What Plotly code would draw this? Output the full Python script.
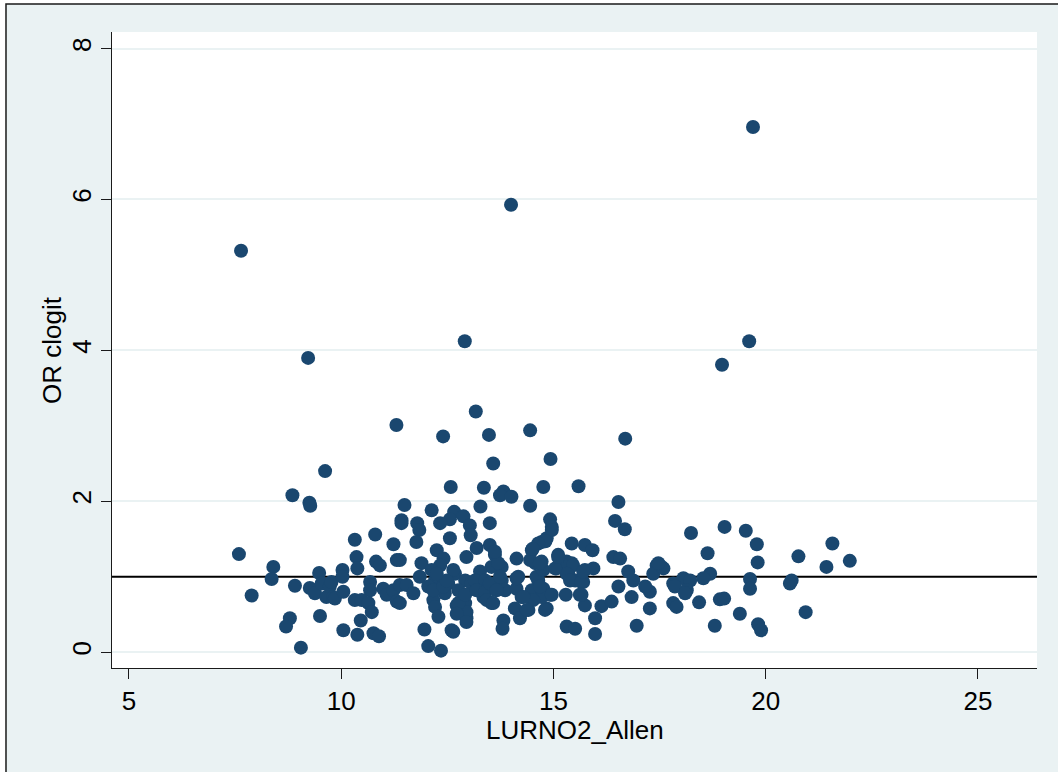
import plotly.graph_objects as go

# Scatter of conditional-logit odds ratios against LURNO2_Allen exposure
lurno2_allen = [
    7.64, 9.22, 9.62, 8.85, 9.25, 9.27, 11.30, 12.40, 12.91, 13.17, 13.48, 13.58, 14.00, 14.45, 14.93, 16.69,
    19.70, 19.61, 18.97, 12.58, 13.36, 13.82, 13.74, 14.01, 14.76, 15.59, 16.53, 11.49, 12.13, 12.66, 13.28,
    14.45, 12.88, 12.56, 12.33, 13.50, 11.42, 11.42, 11.79, 11.84, 14.92, 14.96, 13.03, 13.05, 16.45, 16.68,
    18.24, 19.03, 19.53, 19.79, 19.81, 18.63, 20.77, 21.57, 21.98, 21.43, 20.61, 20.57, 20.94, 19.63, 19.63,
    19.39, 19.82, 19.89, 18.80, 18.92, 19.02, 18.43, 18.69, 18.53, 17.82, 17.90, 17.27, 17.82, 18.06, 18.22,
    18.14, 17.86, 18.10, 17.43, 17.55, 17.35, 17.27, 17.59, 17.47, 17.16, 16.84, 16.76, 16.88, 16.53, 16.96,
    16.41, 16.57, 16.13, 16.37,
    7.59, 8.40, 8.36, 7.89, 8.91, 8.79, 8.70, 9.05, 9.48, 9.26, 9.38, 9.54, 9.65, 9.73, 9.77, 9.81, 9.85,
    10.05, 9.50, 10.03, 10.03, 10.32, 10.36, 10.38, 10.80, 10.82, 10.91, 11.23, 11.31, 10.05, 10.38, 10.46,
    10.76, 10.89, 10.68, 10.68, 10.32, 10.48, 10.64, 10.72, 10.99, 11.07, 11.23, 11.31, 11.38, 11.54, 11.70,
    11.38, 11.38, 11.77, 11.89, 11.85,
    12.25, 12.41, 12.33, 12.13, 12.21, 12.05, 12.29, 12.52, 12.68, 12.44, 12.17, 12.21, 12.29, 12.17, 12.41,
    12.64, 12.48, 12.56, 12.25, 11.96, 12.05, 12.35, 12.64, 12.60,
    12.95, 13.19, 13.50, 13.62, 13.54, 13.78, 13.27, 12.92, 13.07, 12.76, 12.72, 12.92, 12.95, 13.15, 13.39,
    13.35, 13.54, 13.62, 13.86, 13.78, 12.95, 12.76, 12.72, 12.92, 13.19, 13.39, 13.43, 13.58, 13.50, 13.70,
    13.74, 13.66, 13.62, 12.95, 13.82, 13.80,
    14.13, 14.17, 14.13, 14.25, 14.09, 14.21, 14.41, 14.49, 14.57, 14.72, 14.49, 14.72, 14.84, 14.96, 14.64,
    14.76, 14.92, 14.84, 14.72, 14.52, 14.37, 14.60, 14.68, 14.76, 14.45, 14.68, 14.81, 14.64, 14.51, 14.80,
    14.96, 14.13, 14.29,
    15.11, 15.31, 15.43, 15.07, 15.35, 15.51, 15.70, 15.74, 15.74, 15.43, 15.29, 15.62, 15.74, 15.31, 15.51,
    15.98, 15.98, 15.23, 15.46, 15.31, 15.04, 15.39, 15.66, 15.94, 15.70, 15.66, 15.92, 15.11,
]

or_clogit = [
    5.32, 3.90, 2.40, 2.08, 1.98, 1.94, 3.01, 2.86, 4.12, 3.19, 2.88, 2.50, 5.93, 2.94, 2.56, 2.83,
    6.96, 4.12, 3.81, 2.19, 2.18, 2.13, 2.08, 2.06, 2.19, 2.20, 1.99, 1.95, 1.88, 1.86, 1.93,
    1.94, 1.80, 1.76, 1.71, 1.71, 1.75, 1.71, 1.71, 1.62, 1.76, 1.66, 1.68, 1.55, 1.74, 1.63,
    1.58, 1.66, 1.61, 1.43, 1.19, 1.31, 1.27, 1.44, 1.21, 1.13, 0.95, 0.91, 0.53, 0.97, 0.84,
    0.51, 0.37, 0.29, 0.35, 0.70, 0.71, 0.66, 1.04, 0.98, 0.65, 0.60, 0.58, 0.91, 0.98, 0.95,
    0.82, 0.87, 0.78, 1.15, 1.13, 1.04, 0.80, 1.11, 1.18, 0.87, 0.73, 1.07, 0.95, 0.87, 0.35,
    1.26, 1.24, 0.61, 0.67,
    1.30, 1.13, 0.97, 0.75, 0.88, 0.45, 0.34, 0.06, 1.05, 0.85, 0.78, 0.91, 0.73, 0.87, 0.93, 0.73, 0.71,
    0.80, 0.48, 1.09, 1.00, 1.49, 1.26, 1.11, 1.56, 1.20, 1.15, 1.43, 1.22, 0.29, 0.23, 0.42,
    0.25, 0.21, 0.93, 0.82, 0.69, 0.69, 0.65, 0.53, 0.84, 0.76, 0.82, 0.67, 0.89, 0.89, 0.78,
    0.65, 1.22, 1.46, 1.18, 1.00,
    1.35, 1.24, 1.15, 1.09, 0.95, 0.87, 0.84, 0.91, 1.04, 0.78, 0.69, 0.60, 0.47, 0.82, 0.87,
    1.09, 0.95, 1.51, 1.04, 0.30, 0.08, 0.02, 0.27, 0.29,
    1.26, 1.38, 1.42, 1.29, 1.13, 1.13, 1.07, 0.95, 0.91, 0.82, 0.62, 0.65, 0.45, 0.95, 0.95,
    0.73, 0.65, 0.84, 0.82, 0.95, 0.53, 0.65, 0.51, 0.76, 0.82, 0.80, 0.69, 0.65, 0.91, 1.18,
    1.00, 0.82, 1.33, 0.40, 0.42, 0.31,
    1.24, 1.00, 0.84, 0.73, 0.58, 0.45, 0.56, 0.82, 1.18, 1.20, 1.35, 1.46, 1.51, 1.62, 0.95,
    0.84, 0.76, 0.58, 0.73, 0.69, 0.56, 1.00, 0.87, 1.09, 1.22, 1.18, 1.47, 1.44, 1.37, 0.56,
    0.76, 0.98, 0.73,
    1.29, 1.20, 1.18, 1.11, 1.04, 0.95, 0.93, 1.09, 1.42, 1.44, 0.76, 0.76, 0.62, 0.34, 0.31,
    0.45, 0.24, 1.15, 1.15, 1.04, 1.11, 0.95, 0.93, 1.11, 1.07, 0.76, 1.35, 1.26,
]

x_ticks = [5, 10, 15, 20, 25]
y_ticks = [0, 2, 4, 6, 8]
ref_line = 1  # OR = 1 reference
x_title = "LURNO2_Allen"
y_title = "OR clogit"

navy = "#1A476F"
bg = "#EAF2F3"
ink = "#1a1a1a"

fig = go.Figure()
fig.add_trace(go.Scatter(
    x=lurno2_allen, y=or_clogit, mode="markers",
    marker=dict(color=navy, size=14, line=dict(width=0)),
    showlegend=False, hoverinfo="x+y",
))

# outer frame + graph region background, plot region, reference line
fig.add_shape(type="rect", xref="paper", yref="paper",
              x0=-0.1146, x1=1.04, y0=-0.19, y1=1.0440,
              fillcolor=bg, line=dict(color=ink, width=1.5), layer="below")
fig.add_shape(type="rect", xref="paper", yref="paper",
              x0=0, x1=1, y0=0, y1=1,
              fillcolor="white", line=dict(width=0), layer="below")
fig.add_shape(type="line", xref="paper", yref="y",
              x0=0, x1=1, y0=ref_line, y1=ref_line,
              line=dict(color="black", width=2), layer="below")

font = dict(family="Liberation Sans, Arial, Helvetica, sans-serif", size=26, color="black")

# axis titles placed as free text around the plot region
fig.add_annotation(text=y_title, xref="paper", yref="paper",
                   x=-0.0649, y=0.5, xanchor="center", yanchor="middle",
                   textangle=-90, showarrow=False, font=font, borderpad=0)
fig.add_annotation(text=x_title, xref="paper", yref="paper",
                   x=0.5, y=-0.0975, xanchor="center", yanchor="middle",
                   showarrow=False, font=font, borderpad=0)

fig.update_layout(
    width=1058, height=772,
    margin=dict(l=112, r=21, t=32, b=104, pad=0),
    paper_bgcolor="white", plot_bgcolor="white",
    font=font,
    xaxis=dict(
        range=[4.6, 26.39], tickvals=x_ticks, ticks="outside", ticklen=10, tickwidth=1,
        tickcolor=ink, showline=True, linecolor=ink, linewidth=1, showgrid=False,
        zeroline=False, tickfont=font,
    ),
    yaxis=dict(
        range=[-0.21, 8.22], tickvals=y_ticks, ticks="outside", ticklen=10, tickwidth=1,
        tickcolor=ink, showline=True, linecolor=ink, linewidth=1, showgrid=True,
        gridcolor=bg, gridwidth=2, zeroline=False, tickangle=-90, tickfont=font,
    ),
)

fig.write_html("out.html")
